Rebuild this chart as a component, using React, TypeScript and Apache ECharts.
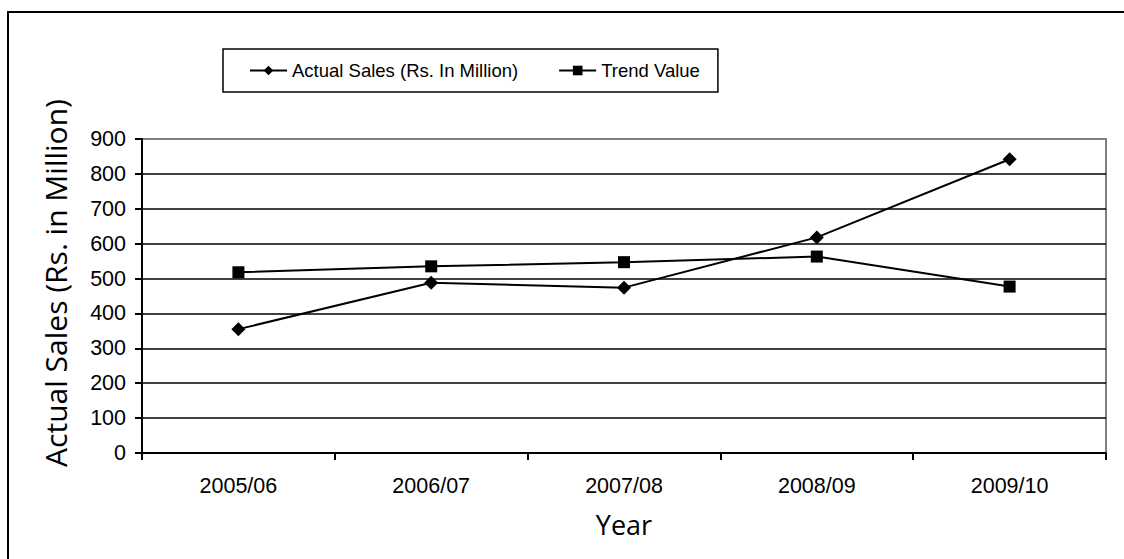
import React, { useEffect, useRef } from "react";
import * as echarts from "echarts";

// Years on the category axis
const years = ["2005/06", "2006/07", "2007/08", "2008/09", "2009/10"];
// Actual sales, Rs. in million
const actualSales = [355, 488, 474, 618, 842];
// Trend values
const trendValues = [518, 535, 547, 563, 477];
// Value axis range
const yMin = 0;
const yMax = 900;
const yStep = 100;

const seriesNames = ["Actual Sales (Rs. In Million)", "Trend Value"];

export default function App() {
  const ref = useRef<HTMLDivElement>(null);

  useEffect(() => {
    if (!ref.current) return;
    const chart = echarts.init(ref.current, null, { renderer: "svg" });

    // gridline colours: black, except the top line which is part of the grey plot border
    const gridColors: string[] = [];
    for (let v = yMin; v <= yMax; v += yStep) gridColors.push(v === yMax ? "#808080" : "#000000");

    chart.setOption({
      animation: false,
      backgroundColor: "#ffffff",
      graphic: [
        {
          type: "rect",
          shape: { x: 8, y: 12, width: 1300, height: 800 },
          style: { fill: "none", stroke: "#000", lineWidth: 2 },
          silent: true,
          z: -1,
        },
      ],
      legend: {
        left: 223,
        top: 49,
        orient: "horizontal",
        data: seriesNames,
        itemWidth: 37,
        itemHeight: 12,
        itemGap: 40,
        padding: [12, 18, 12, 26],
        borderColor: "#000",
        borderWidth: 1.5,
        textStyle: {
          fontFamily: "'Liberation Sans Narrow', 'Liberation Sans', Arial, sans-serif",
          fontSize: 18.5,
          color: "#000",
        },
      },
      grid: {
        left: 142,
        right: 18,
        top: 139,
        bottom: 106,
        show: true,
        borderColor: "#808080",
        borderWidth: 2,
        backgroundColor: "transparent",
      },
      xAxis: {
        type: "category",
        data: years,
        boundaryGap: true,
        name: "Year",
        nameLocation: "middle",
        nameGap: 58,
        nameTextStyle: { fontFamily: "'Open Sans', sans-serif", fontSize: 27, color: "#000" },
        axisLine: { show: true, onZero: false, lineStyle: { color: "#000", width: 2 } },
        axisTick: { show: true, inside: false, length: 7, lineStyle: { color: "#000", width: 2 } },
        axisLabel: {
          color: "#000",
          fontFamily: "'Liberation Sans', Arial, sans-serif",
          fontSize: 21.5,
          margin: 22,
        },
        splitLine: { show: false },
      },
      yAxis: {
        type: "value",
        min: yMin,
        max: yMax,
        interval: yStep,
        name: "Actual Sales (Rs. in Million)",
        nameLocation: "middle",
        nameGap: 72,
        nameTextStyle: {
          fontFamily: "'Open Sans', sans-serif",
          fontSize: 30,
          color: "#000",
          padding: [0, 0, 0, 26],
        },
        axisLine: { show: true, lineStyle: { color: "#000", width: 2 } },
        axisTick: { show: true, inside: false, length: 7, lineStyle: { color: "#000", width: 2 } },
        axisLabel: {
          color: "#000",
          fontFamily: "'Liberation Sans', Arial, sans-serif",
          fontSize: 21.5,
          margin: 16,
        },
        splitLine: { show: true, lineStyle: { color: gridColors, width: 1.5 } },
      },
      series: [
        {
          name: seriesNames[0],
          type: "line",
          data: actualSales,
          symbol: "diamond",
          symbolSize: 14,
          lineStyle: { color: "#000", width: 2 },
          itemStyle: { color: "#000" },
          z: 3,
        },
        {
          name: seriesNames[1],
          type: "line",
          data: trendValues,
          symbol: "rect",
          symbolSize: 12,
          lineStyle: { color: "#000", width: 2 },
          itemStyle: { color: "#000" },
          z: 3,
        },
      ],
    });

    return () => chart.dispose();
  }, []);

  return (
    <div
      ref={ref}
      style={{ position: "absolute", left: 0, top: 0, width: 1124, height: 559, background: "#fff" }}
    />
  );
}
